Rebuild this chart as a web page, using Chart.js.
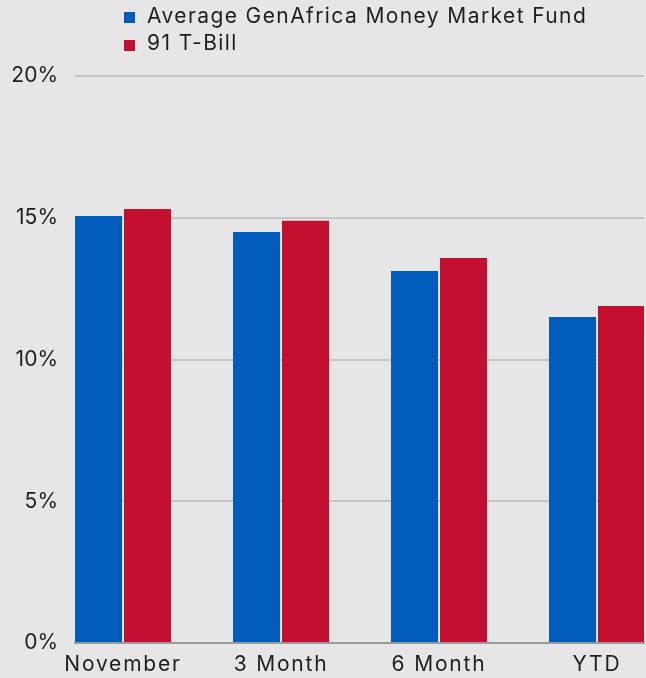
<!DOCTYPE html>
<html>
<head>
<meta charset="utf-8">
<script src="https://cdn.jsdelivr.net/npm/chart.js@4"></script>
<style>
  html, body { margin:0; padding:0; background:#e6e6e6; }
  #wrap { position:relative; width:646px; height:678px; }
  #legend { position:absolute; left:124px; top:0; font-family:Inter, sans-serif; font-size:21px; color:#1e1e1e; letter-spacing:1.4px; }
  #legend .txt { position:absolute; left:23px; white-space:nowrap; height:25px; line-height:25px; }
  #legend .box { position:absolute; left:0; width:11px; height:11px; }
</style>
</head>
<body>
<div id="wrap">
  <canvas id="chart" width="646" height="678"></canvas>
  <div id="legend"></div>
</div>
<script>
// reference data
const categories = ['November', '3 Month', '6 Month', 'YTD'];
const fundReturns = [15.06, 14.50, 13.12, 11.50];
const tbillReturns = [15.31, 14.89, 13.58, 11.89];
const seriesNames = ['Average GenAfrica Money Market Fund', '91 T-Bill'];
const seriesColors = ['#005bbb', '#c30f30'];
const yTicks = [0, 5, 10, 15, 20];

const FONT = 'Inter';

// html legend, stacked like the original
const legendEl = document.getElementById('legend');
seriesNames.forEach((name, i) => {
  const box = document.createElement('div');
  box.className = 'box';
  box.style.top = (12 + i * 27.5) + 'px';
  box.style.background = seriesColors[i];
  const t = document.createElement('div');
  t.className = 'txt';
  t.style.top = (3 + i * 27) + 'px';
  t.textContent = name;
  legendEl.appendChild(box);
  legendEl.appendChild(t);
});

const toPoints = arr => arr.map((v, i) => ({x: i, y: v}));

// wider category labels (original font is broader than Inter)
function spaceLabels(scale){
  if(scale._spaced) return;
  scale._spaced = true;
  const orig = scale.drawLabels.bind(scale);
  scale.drawLabels = function(area){
    const ctx = this.ctx;
    ctx.save();
    ctx.letterSpacing = '1.8px';
    orig(area);
    ctx.restore();
  };
}

new Chart(document.getElementById('chart'), {
  type: 'bar',
  data: {
    datasets: [
      {label: seriesNames[0], data: toPoints(fundReturns), backgroundColor: seriesColors[0]},
      {label: seriesNames[1], data: toPoints(tbillReturns), backgroundColor: seriesColors[1]}
    ]
  },
  options: {
    responsive: false,
    animation: false,
    categoryPercentage: 0.62,
    barPercentage: 0.96,
    layout: {padding: {top: 76, right: 2, left: 0, bottom: 0}},
    plugins: {legend: {display: false}, tooltip: {enabled: false}},
    scales: {
      x: {
        type: 'linear',
        offset: false,
        min: -0.304,
        max: 3.2975,
        grid: {display: false, drawTicks: false},
        border: {display: true, color: '#9a9a9a', width: 2},
        afterBuildTicks: s => { s.ticks = categories.map((c, i) => ({value: i})); },
        afterFit: s => { s.height = 35; spaceLabels(s); },
        ticks: {
          padding: 9,
          color: '#1e1e1e',
          font: {family: FONT, size: 21},
          maxRotation: 0,
          autoSkip: false,
          callback: v => categories[v]
        }
      },
      y: {
        min: yTicks[0],
        max: yTicks[yTicks.length - 1],
        afterBuildTicks: s => { s.ticks = yTicks.map(v => ({value: v})); },
        afterFit: s => { s.width = 75; },
        grid: {color: '#c6c6c6', lineWidth: 2, drawTicks: false},
        border: {display: false},
        ticks: {
          padding: 17,
          color: '#1e1e1e',
          font: {family: FONT, size: 21},
          callback: v => v + '%'
        }
      }
    }
  }
});
</script>
</body>
</html>
